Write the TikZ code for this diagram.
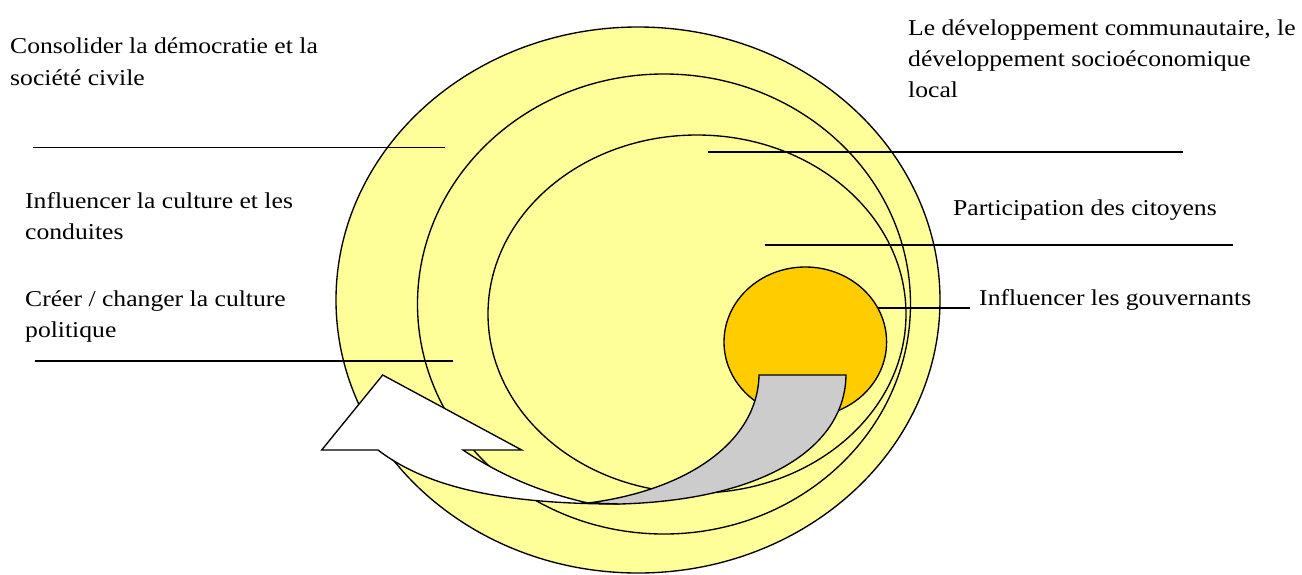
\documentclass[tikz,border=0pt]{standalone}
\usepackage{fontspec}
\setmainfont{Liberation Serif}[FakeStretch=1.13]
\usetikzlibrary{shapes.geometric}
\definecolor{paleyellow}{HTML}{FFFF99}
\definecolor{gold}{HTML}{FFCC00}
\definecolor{bandgray}{HTML}{CCCCCC}
\begin{document}
\begin{tikzpicture}[x=1pt,y=-1pt,
  ring/.style={ellipse, draw=black, line width=1.35pt, fill=paleyellow, inner sep=0pt},
  core/.style={ellipse, draw=black, line width=1.35pt, fill=gold, inner sep=0pt},
  leader/.style={draw=black, line width=1.4pt},
  lbl/.style={anchor=base west, inner sep=0pt, font=\fontsize{22.7}{31}\selectfont},
  band/.style={draw=black, line width=1.35pt, line join=miter}]
\useasboundingbox (0,0) rectangle (1302,574);
% rings
\node[ring, minimum width=604pt, minimum height=546pt] (e1) at (638,300) {};
\node[ring, minimum width=493pt, minimum height=460pt] (e2) at (664,304) {};
\node[ring, minimum width=418pt, minimum height=358pt] (e3) at (697,314) {};
\node[core, minimum width=162.6pt, minimum height=150pt] (core) at (805.3,342) {};
% curved arrow, white part with head
\path[band, fill=white] (321.7,450) -- (382.7,375) -- (521.7,450) -- (463,450)
  .. controls (500,475) and (540,492) .. (588,503) -- (620,504)
  .. controls (510,504) and (430,490) .. (378,450) -- cycle;
% curved arrow, grey part
\path[band, fill=bandgray] (759,375) -- (846,375)
  .. controls (845,450) and (760,500) .. (620,504) -- (588,503)
  .. controls (690,490) and (758,440) .. (759,375) -- cycle;
% leader lines
\coordinate (l1a) at (33,147.7);  \coordinate (l1b) at (445,147.7);
\coordinate (l2a) at (35,361);    \coordinate (l2b) at (453,361);
\coordinate (r1a) at (708,152);   \coordinate (r1b) at (1183,152);
\coordinate (r2a) at (765,245);   \coordinate (r2b) at (1233,245);
\coordinate (gov) at (970,307);
\draw[leader] (l1a) -- (l1b);
\draw[leader] (l2a) -- (l2b);
\draw[leader] (r1a) -- (r1b);
\draw[leader] (r2a) -- (r2b);
\draw[leader] (core.25) -- (core.25 -| gov);
% texts
\node[lbl] (t1a) at (10,53) {Consolider la démocratie et la};
\node[lbl] (t1b) at (10,85) {société civile};
\node[lbl] (t2a) at (25,208) {Influencer la culture et les};
\node[lbl] (t2b) at (25,239) {conduites};
\node[lbl] (t3a) at (25,306) {Créer / changer la culture};
\node[lbl] (t3b) at (25,337) {politique};
\node[lbl] (t4a) at (908,35) {Le développement communautaire, le};
\node[lbl] (t4b) at (908,66) {développement socioéconomique};
\node[lbl] (t4c) at (908,97) {local};
\node[lbl] (t5) at (953,215) {Participation des citoyens};
\node[lbl] (t6) at (979,305) {Influencer les gouvernants};
\end{tikzpicture}
\end{document}
